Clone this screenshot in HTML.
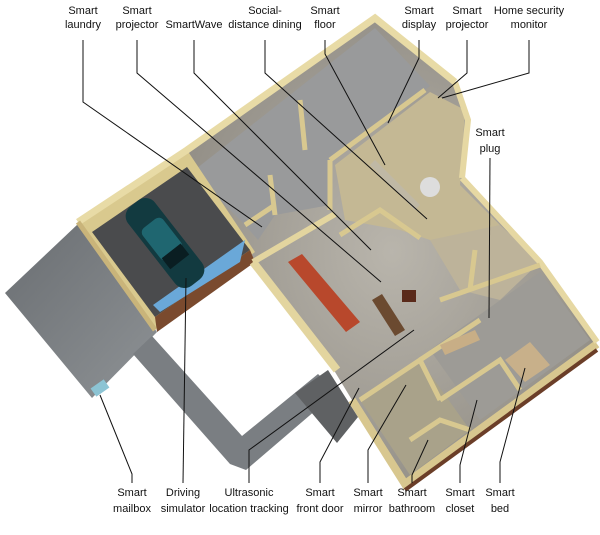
<!DOCTYPE html>
<html><head><meta charset="utf-8"><style>
html,body{margin:0;padding:0;background:#fff;}
svg{display:block;}
text{font-family:"Liberation Sans",sans-serif;font-size:11px;fill:#111;text-anchor:middle;}
</style></head><body>
<svg width="600" height="535" viewBox="0 0 600 535" xmlns="http://www.w3.org/2000/svg">
<defs>
<linearGradient id="dw" x1="0" y1="0" x2="1" y2="1"><stop offset="0" stop-color="#6a6e72"/><stop offset="1" stop-color="#8e9295"/></linearGradient>
<radialGradient id="fl" cx="0.5" cy="0.5" r="0.6"><stop offset="0" stop-color="#b9b5ac"/><stop offset="1" stop-color="#8f8b83"/></radialGradient>
</defs>
<polygon points="78,224 5,293 92,398 157,332" fill="url(#dw)"/>
<polygon points="133,354 152,336 242,436 318,374 337,392 246,470 230,464" fill="#7a7e82"/>
<polygon points="295,393 328,370 358,417 337,443" fill="#5f6163"/>
<polygon points="187,150 375,18 455,82 468,120 462,178 540,262 597,342 405,486 352,400 335,372 253,262" fill="url(#fl)"/>
<polygon points="192,172 375,28 430,86 330,160 330,205 275,215 258,240 245,225" fill="#999a9b"/>
<polygon points="335,165 430,92 465,110 460,185 500,225 470,260 430,240 400,230 345,220" fill="#c4b894"/>
<polygon points="430,240 500,225 540,262 500,300 460,290" fill="#bdb39a"/>
<polygon points="430,350 540,272 590,340 480,420" fill="#9d9b96"/>
<polygon points="360,400 420,360 470,430 410,475" fill="#a9a28a"/>
<polygon points="78,222 187,150 255,252 155,330" fill="#d9c98e"/>
<polygon points="92,232 187,167 250,250 155,317" fill="#4a4b4d"/>
<polygon points="155,317 250,250 255,262 157,332" fill="#7a4a2e"/>
<polygon points="153,305 245,240 240,262 160,312" fill="#6aa8d8"/>
<g transform="translate(165,243) rotate(52)">
<rect x="-50" y="-17" width="100" height="34" rx="12" fill="#123a40"/>
<rect x="-25" y="-13" width="40" height="26" rx="6" fill="#1f6670"/>
<rect x="10" y="-12" width="14" height="24" fill="#0a1e22"/>
</g>
<polyline points="78,222 187,150 375,18 455,82" fill="none" stroke="#e8dba6" stroke-width="7"/>
<polyline points="78,222 155,330" fill="none" stroke="#c9b47a" stroke-width="5"/>
<polyline points="253,262 337,370" fill="none" stroke="#e3d59f" stroke-width="8"/>
<polyline points="253,262 335,214" fill="none" stroke="#e3d59f" stroke-width="6"/>
<polyline points="352,400 405,484 597,344" fill="none" stroke="#d8c78f" stroke-width="8"/>
<polyline points="405,490 597,350" fill="none" stroke="#6b3e28" stroke-width="4"/>
<polyline points="462,178 540,262 597,342" fill="none" stroke="#e6d8a3" stroke-width="6"/>
<polyline points="455,82 468,120 462,178" fill="none" stroke="#e6d8a3" stroke-width="6"/>
<g stroke="#d8c890" stroke-width="5" fill="none">
<polyline points="330,160 330,210"/>
<polyline points="330,160 425,90"/>
<polyline points="270,175 275,215"/>
<polyline points="300,100 305,150"/>
<polyline points="245,225 275,205"/>
<polyline points="340,235 380,210 420,238"/>
<polyline points="440,300 540,265"/>
<polyline points="420,360 480,320"/>
<polyline points="360,400 420,360 440,400"/>
<polyline points="440,400 500,360 520,390"/>
<polyline points="410,440 440,420 470,430"/>
<polyline points="475,250 470,290"/>
</g>
<polygon points="288,262 302,254 360,322 346,332" fill="#b8482c"/>
<polygon points="372,300 382,294 405,330 395,336" fill="#6b4a30"/>
<rect x="402" y="290" width="14" height="12" fill="#5a2a1a"/>
<polygon points="440,345 475,330 480,340 445,355" fill="#c8ae86"/>
<polygon points="505,360 530,342 550,365 525,382" fill="#c8b08a"/>
<circle cx="430" cy="187" r="10" fill="#ddd"/>
<polygon points="375,160 420,205 415,210 370,165" fill="#bfb8a5"/>
<rect x="92" y="383" width="16" height="10" fill="#8cc4d4" transform="rotate(-35 100 388)"/>
<g stroke="#111" stroke-width="1" fill="none">
<polyline points="83,40 83,102 262,227"/>
<polyline points="137,40 137,73 381,282"/>
<polyline points="194,40 194,73 371,250"/>
<polyline points="265,40 265,73 427,219"/>
<polyline points="325,40 325,54 385,165"/>
<polyline points="419,40 419,58 388,123"/>
<polyline points="467,40 467,73 438,98"/>
<polyline points="529,40 529,73 442,98"/>
<polyline points="490,158 489,318"/>
<polyline points="132,483 132,474 100,395"/>
<polyline points="183,483 186,278"/>
<polyline points="249,483 249,450 414,330"/>
<polyline points="320,483 320,462 359,388"/>
<polyline points="368,483 368,450 406,385"/>
<polyline points="412,483 412,475 428,440"/>
<polyline points="460,483 460,465 477,400"/>
<polyline points="500,483 500,462 525,368"/>
</g>
<text x="83" y="14">Smart</text><text x="83" y="28">laundry</text>
<text x="137" y="14">Smart</text><text x="137" y="28">projector</text>
<text x="194" y="28">SmartWave</text>
<text x="265" y="14">Social-</text><text x="265" y="28">distance dining</text>
<text x="325" y="14">Smart</text><text x="325" y="28">floor</text>
<text x="419" y="14">Smart</text><text x="419" y="28">display</text>
<text x="467" y="14">Smart</text><text x="467" y="28">projector</text>
<text x="529" y="14">Home security</text><text x="529" y="28">monitor</text>
<text x="490" y="136">Smart</text><text x="490" y="152">plug</text>
<text x="132" y="496">Smart</text><text x="132" y="512">mailbox</text>
<text x="183" y="496">Driving</text><text x="183" y="512">simulator</text>
<text x="249" y="496">Ultrasonic</text><text x="249" y="512">location tracking</text>
<text x="320" y="496">Smart</text><text x="320" y="512">front door</text>
<text x="368" y="496">Smart</text><text x="368" y="512">mirror</text>
<text x="412" y="496">Smart</text><text x="412" y="512">bathroom</text>
<text x="460" y="496">Smart</text><text x="460" y="512">closet</text>
<text x="500" y="496">Smart</text><text x="500" y="512">bed</text>
</svg>
</body></html>
